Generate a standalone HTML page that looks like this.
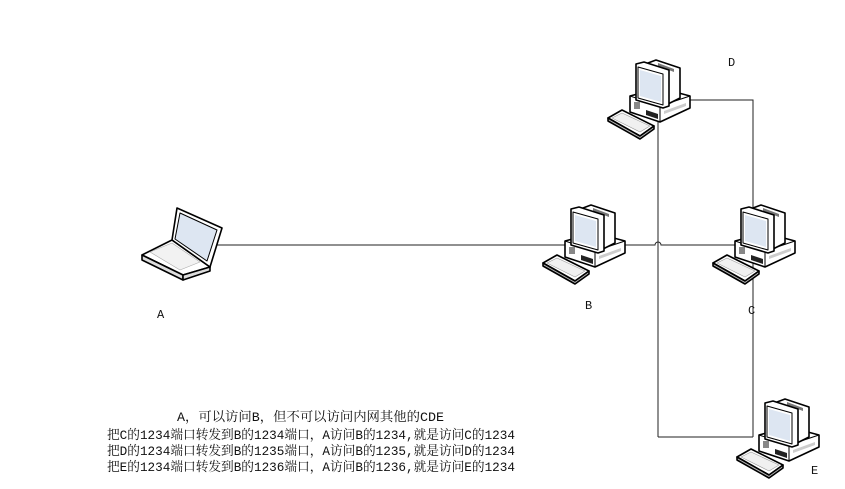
<!DOCTYPE html>
<html><head><meta charset="utf-8"><style>
html,body{margin:0;padding:0;background:#fff;}
svg{display:block;}
text{font-family:"Liberation Mono","Noto Serif CJK SC",serif;fill:#111;}
</style></head><body>
<svg width="845" height="489" viewBox="0 0 845 489" xmlns="http://www.w3.org/2000/svg">
<defs>
<g id="pc" stroke="#000" stroke-width="1.6" stroke-linejoin="round">
  <polygon points="22,38 52,30 82,38 82,50 52,64 22,54" fill="#fff"/>
  <polyline points="22,38 52,48 82,38" fill="none" stroke-width="1"/>
  <line x1="52" y1="48" x2="52" y2="64" stroke-width="1"/>
  <rect x="26" y="44" width="6" height="7" fill="#888" stroke="none"/>
  <polygon points="38,52 50,56 50,61 38,57" fill="#222" stroke="none"/>
  <polygon points="56,53 78,45 78,48 56,56" fill="#ccc" stroke="none"/>
  <polygon points="40,5 48,2 72,10 72,40 58,47 40,42" fill="#fff"/>
  <polygon points="50,5 66,11 66,14 50,8" fill="#777" stroke="none"/>
  <polygon points="28,6 36,4 61,12 61,48 55,50 28,42" fill="#fff"/>
  <polygon points="30,9 55,16 55,47 30,40" fill="#fff" stroke-width="1"/>
  <polygon points="32,12 53,18 53,44 32,38" fill="#dde6f2" stroke="none"/>
  <polygon points="0,60 14,52 46,68 32,78" fill="#fff"/>
  <polygon points="4,60 14,55 42,68 32,74" fill="#f0f0f0" stroke="#999" stroke-width="0.6"/>
  <polygon points="0,60 0,63 32,81 46,71 46,68 32,78" fill="#bbb"/>
</g>
</defs>

<g stroke="#222" stroke-width="1" fill="none">
  <path d="M215,245 L655,245 A3,3 0 0 1 661,245 L745,245"/>
  <line x1="658" y1="120" x2="658" y2="437"/>
  <polyline points="690,100 753,100 753,437"/>
  <line x1="658" y1="437" x2="753" y2="437"/>
</g>

<g stroke="#000" stroke-width="1.6" stroke-linejoin="round" fill="#fff">
  <polygon points="172,240 210,267 183,275 142,255"/>
  <polygon points="142,255 183,275 183,280 142,260" fill="#ddd"/>
  <polygon points="183,275 210,267 210,271 183,280" fill="#ddd"/>
  <polygon points="150,252 172,243 200,262 180,270" fill="#f2f2f2" stroke="#aaa" stroke-width="0.6"/>
  <polygon points="177,208 222,228 210,267 172,240"/>
  <polygon points="180,213 217,230 207,261 175,239" fill="#dde6f2" stroke-width="1"/>
</g>

<use href="#pc" x="608" y="58"/>
<use href="#pc" x="543" y="203"/>
<use href="#pc" x="713" y="203"/>
<use href="#pc" x="737" y="397"/>

<g font-size="12">
  <text x="157" y="318">A</text>
  <text x="585" y="309">B</text>
  <text x="748" y="314">C</text>
  <text x="728" y="66">D</text>
  <text x="811" y="474">E</text>
</g>
<g font-size="13">
  <text x="177" y="421" textLength="267" lengthAdjust="spacingAndGlyphs">A，可以访问B，但不可以访问内网其他的CDE</text>
  <text x="107" y="439" textLength="408" lengthAdjust="spacingAndGlyphs">把C的1234端口转发到B的1234端口，A访问B的1234,就是访问C的1234</text>
  <text x="107" y="455" textLength="408" lengthAdjust="spacingAndGlyphs">把D的1234端口转发到B的1235端口，A访问B的1235,就是访问D的1234</text>
  <text x="107" y="471" textLength="408" lengthAdjust="spacingAndGlyphs">把E的1234端口转发到B的1236端口，A访问B的1236,就是访问E的1234</text>
</g>
</svg>
</body></html>
